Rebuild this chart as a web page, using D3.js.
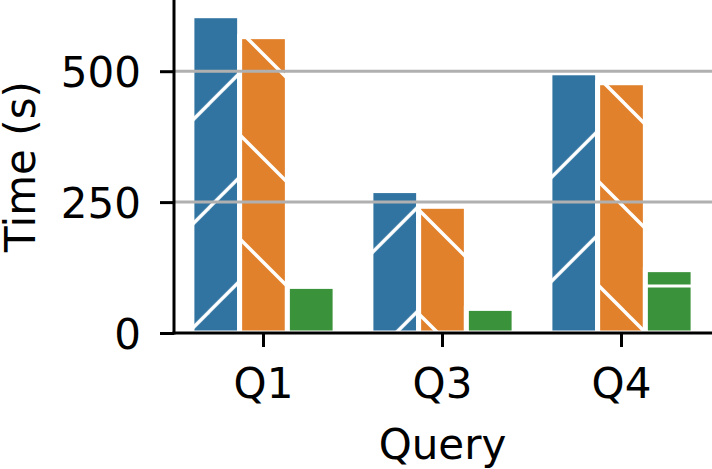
<!DOCTYPE html>
<html>
<head>
<meta charset="utf-8">
<script src="https://cdn.jsdelivr.net/npm/d3@7"></script>
<style>
  html, body { margin: 0; padding: 0; background: #fff; }
  svg { display: block; font-family: "DejaVu Sans", sans-serif; }
</style>
</head>
<body>
<svg id="chart" width="712" height="469"></svg>
<script>
// ---- data ----
const queries = ["Q1", "Q3", "Q4"];
const seriesNames = ["S1", "S2", "S3"];
const seriesS1 = [606, 272, 497];
const seriesS2 = [566, 242, 478];
const seriesS3 = [89, 47, 121];
const yTicks = [0, 250, 500];
const colors = ["#3274a1", "#e1812c", "#3a923a"];
const hatches = ["/", "\\", "-"];

const series = [seriesS1, seriesS2, seriesS3];

// ---- layout ----
const W = 712, H = 469;
const mLeft = 174, mRight = 711, mTop = 0, mBottom = 333;
const svg = d3.select("#chart");

const x = d3.scaleBand().domain(queries).range([mLeft, mRight]).paddingInner(0).paddingOuter(0);
const y = d3.scaleLinear().domain([0, 636]).range([mBottom, mTop]);

const groupW = x.bandwidth() * 0.8;
const barW = groupW / series.length;

// ---- hatch patterns ----
const P = 104;
const defs = svg.append("defs");
function makePattern(id, kind, ox, oy, sw) {
  const p = defs.append("pattern")
    .attr("id", id)
    .attr("patternUnits", "userSpaceOnUse")
    .attr("x", ox).attr("y", oy)
    .attr("width", P).attr("height", P);
  const w = 5;
  let segs = [];
  if (kind === "/") {
    segs = [[-w, P + w, P + w, -w], [-w, w, w, -w], [P - w, P + w, P + w, P - w]];
  } else if (kind === "\\") {
    segs = [[-w, -w, P + w, P + w], [-w, P - w, w, P + w], [P - w, -w, P + w, w]];
  } else {
    segs = [[-w, 0, P + w, 0], [-w, P, P + w, P]];
  }
  segs.forEach(s => p.append("line")
    .attr("x1", s[0]).attr("y1", s[1]).attr("x2", s[2]).attr("y2", s[3])
    .attr("stroke", "#fff").attr("stroke-width", sw));
}
makePattern("h0", "/", 0.8, 0, 3.4);
makePattern("h1", "\\", 1, 0, 3.4);
makePattern("h2", "-", 0, 78, 3.2);

// ---- bars ----
const barsG = svg.append("g");
series.forEach((vals, si) => {
  vals.forEach((v, qi) => {
    const cx = x(queries[qi]) + x.bandwidth() / 2;
    const x0 = cx - groupW / 2 + si * barW;
    const yt = y(v), yb = y(0);
    barsG.append("rect")
      .attr("x", x0).attr("y", yt).attr("width", barW).attr("height", yb - yt)
      .attr("fill", colors[si]);
    barsG.append("rect")
      .attr("x", x0).attr("y", yt).attr("width", barW).attr("height", yb - yt)
      .attr("fill", `url(#h${si})`);
    barsG.append("rect")
      .attr("x", x0).attr("y", yt).attr("width", barW).attr("height", yb - yt)
      .attr("fill", "none").attr("stroke", "#fff").attr("stroke-width", 5);
  });
});

// ---- grid (above bars) ----
svg.append("g").selectAll("line")
  .data(yTicks.filter(d => d > 0))
  .join("line")
  .attr("x1", mLeft).attr("x2", W)
  .attr("y1", d => y(d)).attr("y2", d => y(d))
  .attr("stroke", "#b0b0b0").attr("stroke-width", 3);

// ---- axes ----
const yAxis = svg.append("g")
  .attr("transform", `translate(${mLeft},0)`)
  .call(d3.axisLeft(y).tickValues(yTicks).tickSize(14).tickPadding(19).tickSizeOuter(0));
yAxis.select(".domain").attr("stroke", "#000").attr("stroke-width", 3)
  .attr("d", `M0,${mTop}V${mBottom + 1.5}`);
yAxis.selectAll(".tick line").attr("stroke", "#000").attr("stroke-width", 3);
yAxis.selectAll(".tick text").attr("font-size", 42).attr("fill", "#000")
  .attr("font-family", "DejaVu Sans").attr("dy", "0.36em");

const xAxis = svg.append("g")
  .attr("transform", `translate(0,${mBottom})`)
  .call(d3.axisBottom(x).tickSize(14).tickSizeOuter(0));
xAxis.select(".domain").attr("stroke", "#000").attr("stroke-width", 3)
  .attr("d", `M${mLeft - 1.5},0H${W}`);
xAxis.selectAll(".tick line").attr("stroke", "#000").attr("stroke-width", 3);
xAxis.selectAll(".tick text").attr("font-size", 42).attr("fill", "#000")
  .attr("font-family", "DejaVu Sans").attr("y", 65).attr("dy", null);

// ---- axis titles ----
svg.append("text")
  .attr("transform", `translate(35,${(mTop + mBottom) / 2}) rotate(-90)`)
  .attr("text-anchor", "middle")
  .attr("font-size", 42).attr("fill", "#000")
  .text("Time (s)");
svg.append("text")
  .attr("x", (mLeft + mRight) / 2).attr("y", 459)
  .attr("text-anchor", "middle")
  .attr("font-size", 42).attr("fill", "#000")
  .text("Query");
</script>
</body>
</html>
